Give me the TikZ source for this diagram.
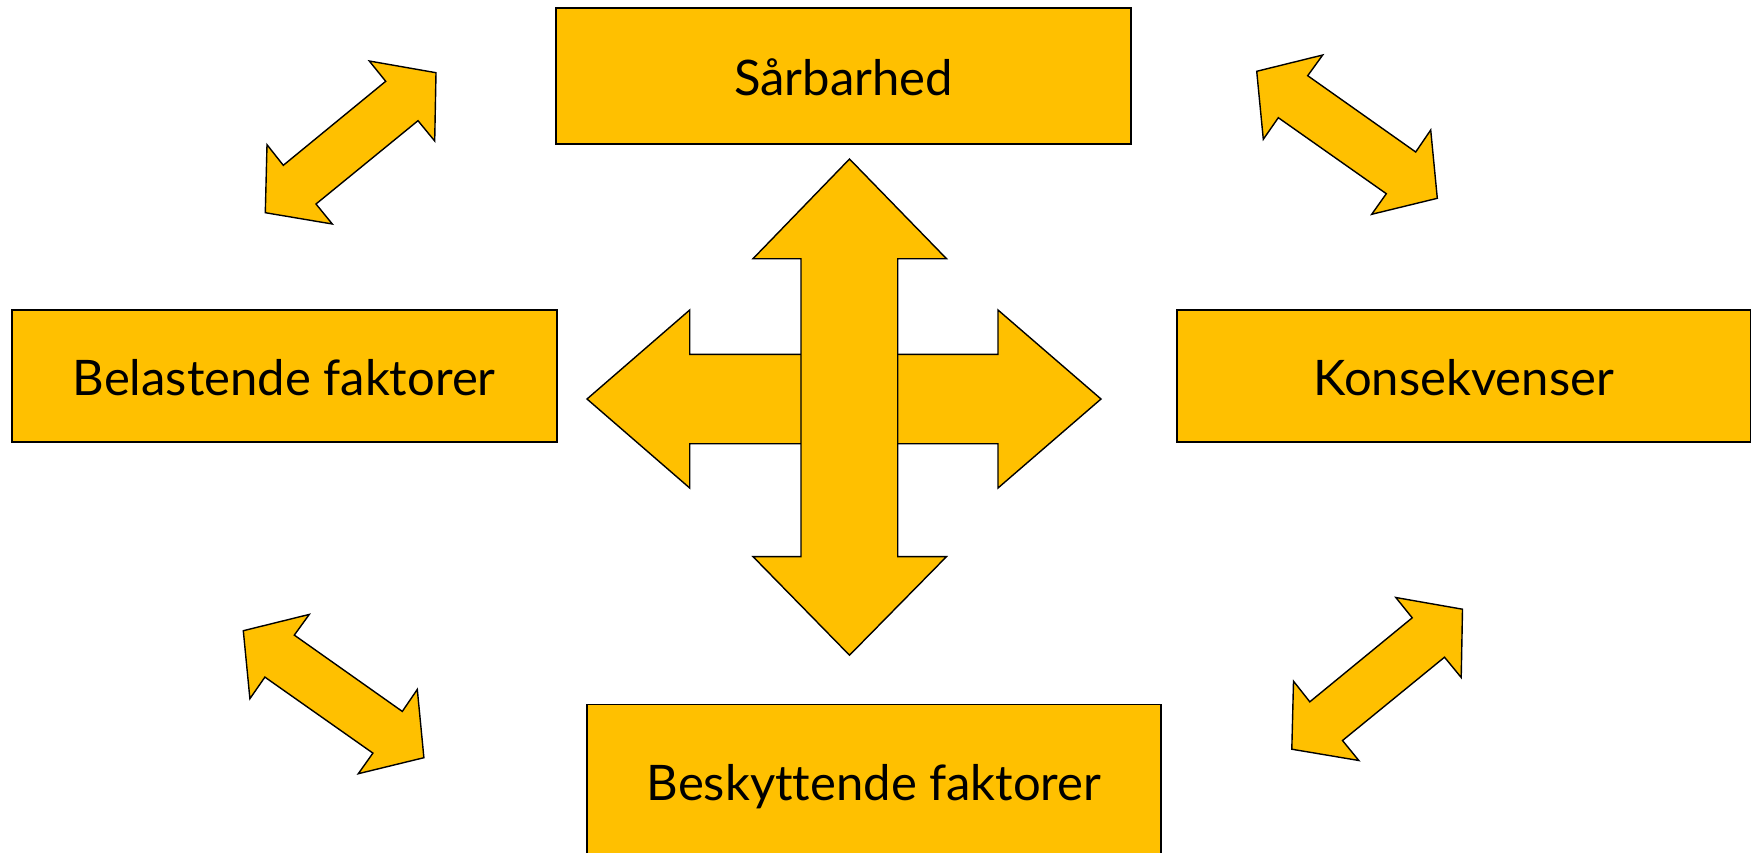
\documentclass[tikz,border=0pt]{standalone}
\usepackage{fontspec}
\setmainfont{Lato}[Ligatures={NoCommon}]
\definecolor{gold}{RGB}{255,192,0}
\begin{document}
\begin{tikzpicture}[x=1pt,y=-1pt,
  box/.style={draw=black, line width=1.6pt, fill=gold, rectangle, inner sep=0pt,
    text height=38pt, text depth=0pt, font=\fontsize{49}{58}\selectfont},
  blockarrow/.style={draw=black, line width=1.4pt, fill=gold, line join=miter},
  diagA/.pic={\draw[blockarrow] (369.3,61) -- (436,72.7) -- (434.7,141) -- (418,120.7)
      -- (316,204) -- (332.3,224) -- (265.3,212.7) -- (267,144.7) -- (283.3,165.3)
      -- (385.7,81.3) -- cycle;},
  diagB/.pic={\draw[blockarrow] (1256.7,71.3) -- (1322.7,55) -- (1307.7,75.7) -- (1415.7,152)
      -- (1430.7,130) -- (1437.3,198.3) -- (1371.7,214.3) -- (1386.3,193.7)
      -- (1278.3,117.7) -- (1263.3,139.3) -- cycle;}]
\clip (0,0) rectangle (1756,852);
\fill[white] (0,0) rectangle (1756,852);

% boxes
\node[box, minimum width=575pt, minimum height=136pt] (sar) at (843.5,76) {Sårbarhed};
\node[box, minimum width=545pt, minimum height=132pt] (bel) at (284.2,376) {Belastende faktorer};
\node[box, minimum width=573.4pt, minimum height=132pt] (kon) at (1463.7,376) {Konsekvenser};
\node[box, minimum width=574.5pt, minimum height=153.2pt] (bes) at (874,781) {Beskyttende faktorer};

% central cross of arrows
\draw[blockarrow] (587,399) -- (689.7,310) -- (689.7,354.3) -- (998,354.3) -- (998,310)
  -- (1101,399) -- (998,488) -- (998,443.7) -- (689.7,443.7) -- (689.7,488) -- cycle;
\draw[blockarrow] (849.5,159) -- (946.5,258.7) -- (897.7,258.7) -- (897.7,556.6)
  -- (946.5,556.6) -- (849.5,655.2) -- (753,556.6) -- (801,556.6) -- (801,258.7)
  -- (753,258.7) -- cycle;

% diagonal double arrows
\pic at (0,0) {diagA};
\pic at (1026.5,536.5) {diagA};
\pic at (0,0) {diagB};
\pic at (-1013.4,559.4) {diagB};
\end{tikzpicture}
\end{document}
